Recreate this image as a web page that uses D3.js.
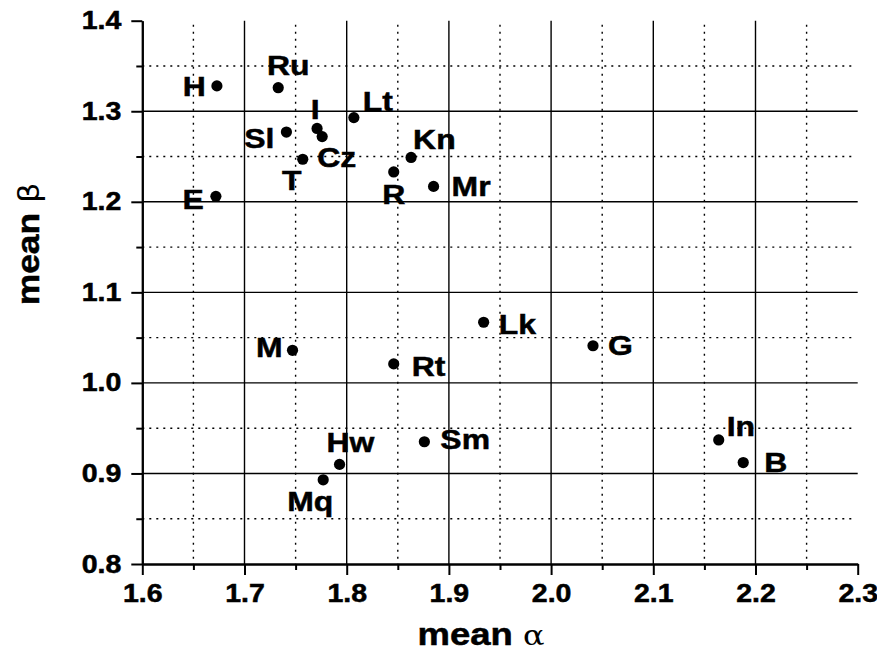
<!DOCTYPE html>
<html>
<head>
<meta charset="utf-8">
<script src="https://cdn.jsdelivr.net/npm/d3@7"></script>
<style>
  html, body { margin: 0; padding: 0; background: #fff; }
  svg { display: block; }
  text { font-family: "Liberation Sans", Arial, sans-serif; font-weight: bold; fill: #000; }
</style>
</head>
<body>
<svg id="chart" width="877" height="653"></svg>
<script>
// Group codes with their mean alpha / mean beta
const names  = ["H", "Ru", "I", "Cz", "Lt", "Sl", "T", "E", "R", "Kn", "Mr",
                "Lk", "G", "M", "Rt", "Hw", "Mq", "Sm", "In", "B"];
const alphas = [1.673, 1.733, 1.771, 1.776, 1.807, 1.741, 1.757, 1.672, 1.846, 1.863, 1.885,
                1.934, 2.041, 1.747, 1.846, 1.793, 1.777, 1.876, 2.164, 2.188];
const betas  = [1.328, 1.326, 1.281, 1.272, 1.293, 1.277, 1.247, 1.206, 1.233, 1.249, 1.217,
                1.067, 1.041, 1.036, 1.021, 0.910, 0.893, 0.935, 0.937, 0.912];

const xTicks = [1.6, 1.7, 1.8, 1.9, 2.0, 2.1, 2.2, 2.3];
const yTicks = [0.8, 0.9, 1.0, 1.1, 1.2, 1.3, 1.4];
const xMinor = [1.65, 1.75, 1.85, 1.95, 2.05, 2.15, 2.25];
const yMinor = [0.85, 0.95, 1.05, 1.15, 1.25, 1.35];

// where each label sits relative to its dot: [anchor, dx, dy]
const labelPlacement = {
  H: ["end", -11, 10], Ru: ["middle", 10, -13], I: ["middle", -2, -9], Cz: ["start", -5, 30],
  Lt: ["start", 9, -7], Sl: ["end", -12, 16], T: ["middle", -11, 31], E: ["end", -12, 13],
  R: ["middle", 0, 32], Kn: ["start", 2, -8], Mr: ["start", 18, 10], Lk: ["start", 15, 12],
  G: ["start", 15, 9], M: ["end", -10, 7], Rt: ["start", 18, 12], Hw: ["start", -13, -12],
  Mq: ["middle", -13, 31], Sm: ["start", 16, 7], In: ["start", 8, -4], B: ["start", 21, 9]
};

const svg = d3.select("#chart");
const plotLeft = 142.3, plotRight = 857.7, plotTop = 20.7, plotBottom = 564;
const widen = 1.14;   // the lettering runs a little wide

const x = d3.scaleLinear().domain([1.6, 2.3]).range([plotLeft, plotRight]);
const y = d3.scaleLinear().domain([0.8, 1.4]).range([plotBottom, plotTop]);

const grid = svg.append("g");
// minor dotted grid
grid.selectAll("line.vmin").data(xMinor).join("line")
  .attr("x1", d => x(d)).attr("x2", d => x(d))
  .attr("y1", plotTop + 4).attr("y2", plotBottom)
  .attr("stroke", "#000").attr("stroke-width", 1.4).attr("stroke-dasharray", "2,5");
grid.selectAll("line.hmin").data(yMinor).join("line")
  .attr("y1", d => y(d)).attr("y2", d => y(d))
  .attr("x1", plotLeft).attr("x2", plotRight - 4)
  .attr("stroke", "#000").attr("stroke-width", 1.4).attr("stroke-dasharray", "2,5");
// major solid grid
grid.selectAll("line.vmaj").data(xTicks.filter(d => d > 1.6 && d < 2.3)).join("line")
  .attr("x1", d => x(d)).attr("x2", d => x(d))
  .attr("y1", plotTop).attr("y2", plotBottom)
  .attr("stroke", "#000").attr("stroke-width", 1.4);
grid.selectAll("line.hmaj").data(yTicks.filter(d => d > 0.8 && d < 1.4)).join("line")
  .attr("y1", d => y(d)).attr("y2", d => y(d))
  .attr("x1", plotLeft).attr("x2", plotRight)
  .attr("stroke", "#000").attr("stroke-width", 1.4);

// axes
const xAxis = svg.append("g").attr("transform", `translate(0,${plotBottom})`)
  .call(d3.axisBottom(x).tickValues(xTicks).tickFormat(d3.format(".1f")).tickSize(11).tickSizeOuter(0).tickPadding(9));
const xAxisMinor = svg.append("g").attr("transform", `translate(0,${plotBottom})`)
  .call(d3.axisBottom(x).tickValues(xMinor).tickFormat("").tickSize(6).tickSizeOuter(0));
const yAxis = svg.append("g").attr("transform", `translate(${plotLeft},0)`)
  .call(d3.axisLeft(y).tickValues(yTicks).tickFormat(d3.format(".1f")).tickSize(11).tickSizeOuter(0).tickPadding(10));
const yAxisMinor = svg.append("g").attr("transform", `translate(${plotLeft},0)`)
  .call(d3.axisLeft(y).tickValues(yMinor).tickFormat("").tickSize(6).tickSizeOuter(0));

[xAxis, xAxisMinor, yAxis, yAxisMinor].forEach(g => {
  g.select(".domain").attr("stroke", "#000").attr("stroke-width", 2);
  g.selectAll(".tick line").attr("stroke", "#000").attr("stroke-width", 2);
  g.selectAll(".tick text").attr("font-size", 25).attr("font-weight", "bold")
    .attr("font-family", "Liberation Sans, Arial, sans-serif").attr("fill", "#000")
    .attr("stroke", "#000").attr("stroke-width", 0.5)
    .attr("transform", function () {
      const tx = +this.getAttribute("x") || 0;
      return `translate(${tx},0) scale(${widen},1) translate(${-tx},0)`;
    });
});
xAxis.selectAll(".tick text").attr("dy", "0.71em");

// points
const rows = names.map((n, i) => ({ name: n, a: alphas[i], b: betas[i] }));
svg.append("g").selectAll("circle").data(rows).join("circle")
  .attr("cx", d => x(d.a)).attr("cy", d => y(d.b)).attr("r", 5.6).attr("fill", "#000");

svg.append("g").selectAll("text").data(rows).join("text")
  .attr("transform", d => `translate(${x(d.a) + labelPlacement[d.name][1]},${y(d.b) + labelPlacement[d.name][2]}) scale(${widen},1)`)
  .attr("text-anchor", d => labelPlacement[d.name][0])
  .attr("font-size", 28)
  .attr("stroke", "#000").attr("stroke-width", 0.5)
  .text(d => d.name);

// axis titles
const xt = svg.append("text").attr("transform", `translate(481,645) scale(${widen},1)`)
  .attr("text-anchor", "middle").attr("font-size", 32).attr("stroke", "#000").attr("stroke-width", 0.5);
xt.append("tspan").text("mean ");
xt.append("tspan").attr("font-weight", "normal").attr("font-family", "DejaVu Serif, serif")
  .attr("font-size", 28).attr("stroke-width", 0).text("α");

const yt = svg.append("text").attr("transform", `translate(39,244) rotate(-90) scale(${widen},1)`)
  .attr("text-anchor", "middle").attr("font-size", 31).attr("stroke", "#000").attr("stroke-width", 0.5);
yt.append("tspan").text("mean ");
yt.append("tspan").attr("font-weight", "normal").attr("font-family", "DejaVu Sans, sans-serif")
  .attr("font-size", 28).attr("stroke-width", 0).text("β");
</script>
</body>
</html>
